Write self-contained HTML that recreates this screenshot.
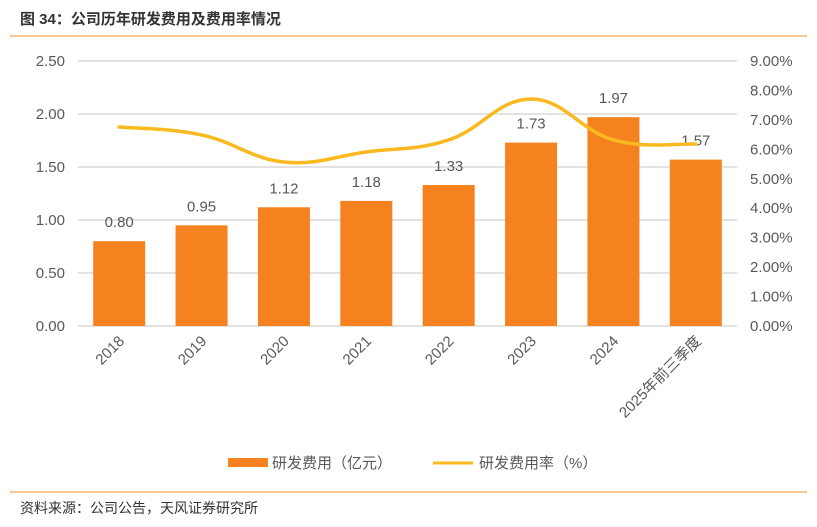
<!DOCTYPE html>
<html><head><meta charset="utf-8"><style>
body{margin:0;background:#fff;}
svg{display:block;font-family:"Liberation Sans","Noto Sans CJK SC",sans-serif;}
</style></head><body>
<svg width="817" height="527" viewBox="0 0 817 527">
<text x="20" y="24" font-size="15" font-weight="bold" fill="#333">图 34：公司历年研发费用及费用率情况</text>
<line x1="10" y1="36" x2="807" y2="36" stroke="#f08c1e" stroke-width="1"/>
<g id="grid"></g><g id="bars"></g><g id="line"></g><g id="axes"></g>
<g>
<rect x="228" y="458" width="40" height="9" fill="#f5821f"/>
<text x="272" y="468" font-size="15" fill="#595959">研发费用（亿元）</text>
<line x1="433" y1="463" x2="473" y2="463" stroke="#f9b91f" stroke-width="3"/>
<text x="479" y="468" font-size="15" fill="#595959">研发费用率（%）</text>
</g>
<line x1="10" y1="492" x2="807" y2="492" stroke="#f08c1e" stroke-width="1"/>
<text x="20" y="513" font-size="14" fill="#333">资料来源：公司公告，天风证券研究所</text>
</svg>
<script>
const categories=["2018","2019","2020","2021","2022","2023","2024","2025年前三季度"];
const expense=[0.80,0.95,1.12,1.18,1.33,1.73,1.97,1.57];
const ratio=[6.76,6.49,5.57,5.91,6.32,7.71,6.32,6.18];
const leftTicks=[0,0.5,1,1.5,2,2.5];
const rightTicks=[0,1,2,3,4,5,6,7,8,9];
const NS="http://www.w3.org/2000/svg";
const X0=78,X1=737,Y0=326,Y1=61;
const band=(X1-X0)/categories.length;
const xc=i=>X0+band*(i+0.5);
const yL=v=>Y0-(v/2.5)*(Y0-Y1);
const yR=v=>Y0-(v/9)*(Y0-Y1);
function mk(t,a,p){const e=document.createElementNS(NS,t);for(const k in a)e.setAttribute(k,a[k]);p.appendChild(e);return e;}
const grid=document.getElementById('grid'),bars=document.getElementById('bars'),line=document.getElementById('line'),axes=document.getElementById('axes');
leftTicks.forEach(v=>{
 const g=mk('line',{x1:X0,x2:X1,y1:yL(v),y2:yL(v),stroke:'#d9d9d9','stroke-width':1.5},grid);
 
 
 const t=mk('text',{x:65,y:yL(v)+5,'text-anchor':'end','font-size':15,fill:'#595959'},axes);
 t.textContent=v.toFixed(2);
 
 
});
rightTicks.forEach(v=>{
 const t=mk('text',{x:750,y:yR(v)+5,'font-size':15,fill:'#595959'},axes);
 t.textContent=v.toFixed(2)+'%';
 
 
});
categories.forEach((c,i)=>{
 const v=expense[i];
 const r=mk('rect',{x:xc(i)-26,y:yL(v),width:52,height:Y0-yL(v),fill:'#f5821f'},bars);
 
 
 const l=mk('text',{x:xc(i),y:yL(v)-14,'text-anchor':'middle','font-size':15,fill:'#595959'},bars);
 l.textContent=v.toFixed(2);
 
 
 const t=mk('text',{x:xc(i)+6,y:Y0+16,'text-anchor':'end','font-size':15,fill:'#595959',transform:`rotate(-45 ${xc(i)+6} ${Y0+16})`},axes);
 t.textContent=c;
 
 
});
const pts=ratio.map((v,i)=>[xc(i),yR(v)]);
let d=`M${pts[0][0]},${pts[0][1]}`;
for(let i=0;i<pts.length-1;i++){
 const p0=pts[Math.max(0,i-1)],p1=pts[i],p2=pts[i+1],p3=pts[Math.min(pts.length-1,i+2)];
 const t=0.2;
 d+=` C${p1[0]+(p2[0]-p0[0])*t},${p1[1]+(p2[1]-p0[1])*t} ${p2[0]-(p3[0]-p1[0])*t},${p2[1]-(p3[1]-p1[1])*t} ${p2[0]},${p2[1]}`;
}
const path=mk('path',{d:d,fill:'none',stroke:'#f9b91f','stroke-width':3.5,'stroke-linecap':'round'},line);


</script>
</body></html>
